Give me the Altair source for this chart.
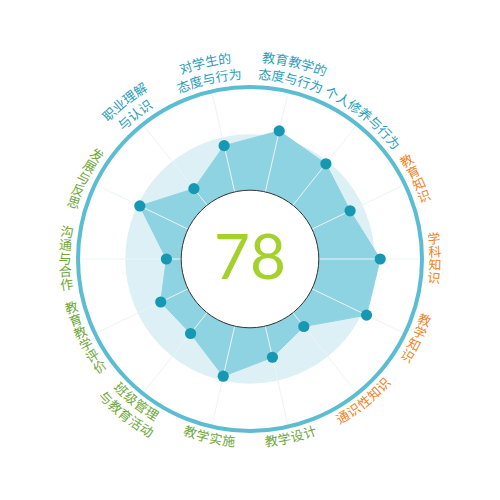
import altair as alt
import numpy as np
import pandas as pd

# ---------------- data ----------------
categories = ["教育教学的态度与行为", "个人修养与行为", "教育知识", "学科知识", "教学知识",
              "通识性知识", "教学设计", "教学实施", "班级管理与教育活动", "教育教学评价",
              "沟通与合作", "发展与反思", "职业理解与认识", "对学生的态度与行为"]
label_lines = [["教育教学的", "态度与行为"], ["个人修养与行为"], ["教育知识"], ["学科知识"], ["教学知识"],
               ["通识性知识"], ["教学设计"], ["教学实施"], ["班级管理", "与教育活动"], ["教育教学评价"],
               ["沟通与合作"], ["发展与反思"], ["职业理解", "与认识"], ["对学生的", "态度与行为"]]
scores = [76.4, 70.8, 64.6, 75.7, 75.2, 50.2, 58.6, 69.9, 55.4, 57.6, 48.6, 71.1, 52.3, 67.6]
groups = ["理念", "理念", "知识", "知识", "知识", "知识", "能力", "能力", "能力", "能力",
          "能力", "能力", "理念", "理念"]
group_colors = {"理念": "#2c9db7", "知识": "#ef8427", "能力": "#6ea83a"}
total_score = ["78"]
inner_level = [40]
band_level = [72.5]
outer_level = [100]

# ---------------- layout ----------------
W = H = 500
CX, CY = 250, 259
PX = 1.72                      # pixels per score unit
R_IN, LINE_GAP, ADV = 184, 17, 13.2

N = len(categories)
step = 360 / N
xs = alt.Scale(domain=[-CX / PX, (W - CX) / PX], nice=False, zero=False)
ys = alt.Scale(domain=[-(H - CY) / PX, CY / PX], nice=False, zero=False)
rs = alt.Scale(type="linear", domain=[0, 100], range=[0, 100 * PX], zero=True)

ang = np.radians((np.arange(N) + 0.5) * step)
poly = pd.DataFrame({
    "cat": categories, "idx": np.arange(N), "score": scores,
    "x": np.array(scores) * np.sin(ang), "y": np.array(scores) * np.cos(ang),
    "x0": 0.0, "y0": 0.0,
    "xe": outer_level[0] * np.sin(ang), "ye": outer_level[0] * np.cos(ang),
})

rows = []
for i, (lines, grp) in enumerate(zip(label_lines, groups)):
    th = (i + 0.5) * step
    if th < 50 or th > 310:
        kind = "top"
    elif th < 130:
        kind = "right"
    elif th < 230:
        kind = "bottom"
    else:
        kind = "left"
    nl = len(lines)
    for li, line in enumerate(lines):
        if kind == "top":
            r = R_IN + (nl - 1 - li) * LINE_GAP
        elif kind == "bottom":
            r = R_IN + li * LINE_GAP
        else:
            r = R_IN + 1
        n = len(line)
        dth = np.degrees(ADV / r)
        for k, ch in enumerate(line):
            off = (k - (n - 1) / 2) * dth
            a = th + off if kind in ("top", "right") else th - off
            rot = {"top": a, "right": a - 90, "bottom": a - 180, "left": a - 270}[kind] % 360
            rr = r / PX
            rows.append(dict(ch=ch, x=rr * np.sin(np.radians(a)), y=rr * np.cos(np.radians(a)),
                             rot=rot, color=group_colors[grp]))
labels = pd.DataFrame(rows)

def circ(level):
    return pd.DataFrame({"cx": [0.0], "cy": [0.0], "r": level})

X = lambda f: alt.X(f, type="quantitative", scale=xs, axis=None)
Y = lambda f: alt.Y(f, type="quantitative", scale=ys, axis=None)

disk = alt.Chart(circ(band_level)).mark_arc(theta=0, theta2=2 * np.pi, fill="#dcf0f6").encode(
    x=X("cx"), y=Y("cy"), radius=alt.Radius("r:Q", scale=rs))

shape = alt.Chart(poly).mark_line(interpolate="linear-closed", fill="#8ed3e1", stroke="#8ed3e1",
                                  strokeWidth=1).encode(x=X("x"), y=Y("y"), order="idx:Q")

spokes = alt.Chart(poly).mark_rule(color="#eef3f4", strokeWidth=1).encode(
    x=X("x0"), y=Y("y0"), x2="xe", y2="ye")

inner = alt.Chart(circ(inner_level)).mark_arc(theta=0, theta2=2 * np.pi, fill="white",
                                              stroke="#333333", strokeWidth=1).encode(
    x=X("cx"), y=Y("cy"), radius=alt.Radius("r:Q", scale=rs))

ring = alt.Chart(circ(outer_level)).mark_arc(theta=0, theta2=2 * np.pi, fillOpacity=0,
                                             stroke="#5bbdd1", strokeWidth=4).encode(
    x=X("cx"), y=Y("cy"), radius=alt.Radius("r:Q", scale=rs))

points = alt.Chart(poly).mark_circle(size=125, color="#1798b2", opacity=1).encode(
    x=X("x"), y=Y("y"))

text = alt.Chart(labels).mark_text(font="Noto Sans CJK SC", fontSize=13, baseline="middle",
                                   align="center").encode(
    x=X("x"), y=Y("y"), text="ch:N", angle=alt.Angle("rot:Q", scale=None),
    color=alt.Color("color:N", scale=None))

center = alt.Chart(pd.DataFrame({"cx": [0.0], "cy": [0.0], "t": total_score})).mark_text(
    font="Lato", fontSize=62, fontWeight=400, color="#a4d12c", baseline="middle", dy=1).encode(
    x=X("cx"), y=Y("cy"), text="t:N")

chart = alt.layer(disk, shape, spokes, inner, ring, points, text, center).properties(
    width=W, height=H, padding=0, autosize="none"
).configure_view(strokeWidth=0)

chart.save("out.html", embed_options={"renderer": "svg", "actions": False})
